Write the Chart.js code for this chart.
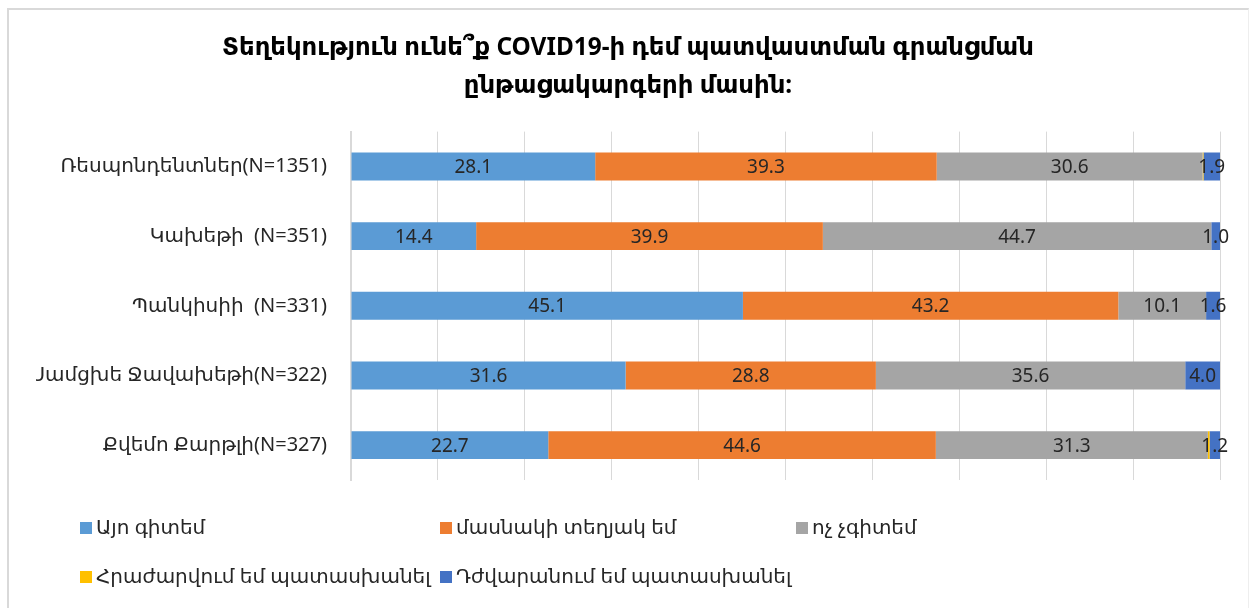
<!DOCTYPE html>
<html lang="hy">
<head>
<meta charset="utf-8">
<title>COVID19 պատվաստման գրանցում</title>
<script src="https://cdn.jsdelivr.net/npm/chart.js@4.4.1/dist/chart.umd.min.js"></script>
<style>
    html, body { margin: 0; padding: 0; background: #fff; overflow: hidden; }
    #wrap { position: relative; width: 1249px; height: 608px; }
    #frame {
        position: absolute; left: 7px; top: 8px; right: 0; bottom: -10px;
        border-left: 2px solid #d9d9d9; border-top: 2px solid #d9d9d9; border-right: 1px solid #eeeeee;
        pointer-events: none;
    }
    canvas { position: absolute; left: 0; top: 0; }
</style>
</head>
<body>
<div id="wrap">
    <canvas id="grafico" width="1249" height="608"></canvas>
    <div id="frame"></div>
</div>
<script>
// Շրջաններ
const regiones = ["Ռեսպոնդենտներ(N=1351)", "Կախեթի  (N=351)", "Պանկիսիի  (N=331)", "Սամցխե Ջավախեթի(N=322)", "Քվեմո Քարթլի(N=327)"];

// Պատասխաններ (%)
const siGito = [28.1, 14.4, 45.1, 31.6, 22.7];
const parcialmente = [39.3, 39.9, 43.2, 28.8, 44.6];
const noSe = [30.6, 44.7, 10.1, 35.6, 31.3];
const rechazo = [0.1, 0.0, 0.0, 0.0, 0.2];
const dificil = [1.9, 1.0, 1.6, 4.0, 1.2];

const etiquetas = ["Այո գիտեմ", "մասնակի տեղյակ եմ", "ոչ չգիտեմ", "Հրաժարվում եմ պատասխանել", "Դժվարանում եմ պատասխանել"];
const colores = ["#5B9BD5", "#ED7D31", "#A5A5A5", "#FFC000", "#4472C4"];
const ticksX = [0, 10, 20, 30, 40, 50, 60, 70, 80, 90, 100];

const FUENTE = "'Noto Sans', 'DejaVu Sans', sans-serif";
const series = [siGito, parcialmente, noSe, rechazo, dificil];

// Valores dentro de cada segmento (sin la serie amarilla)
const valoresPlugin = {
    id: "valores",
    afterDatasetsDraw(chart) {
        const ctx = chart.ctx;
        ctx.save();
        ctx.font = "19px " + FUENTE;
        ctx.fillStyle = "#262626";
        ctx.textAlign = "center";
        ctx.textBaseline = "middle";
        chart.data.datasets.forEach((ds, i) => {
            if (ds.sinEtiqueta) return;
            chart.getDatasetMeta(i).data.forEach((bar, j) => {
                const v = ds.data[j];
                if (!v) return;
                const cx = (bar.x + bar.base) / 2;
                ctx.fillText(v.toFixed(1), cx, bar.y + 1);
            });
        });
        ctx.restore();
    }
};

// Leyenda en dos filas con columnas fijas
const leyendaPlugin = {
    id: "leyenda",
    afterDraw(chart) {
        const ctx = chart.ctx;
        const cols = [80, 440, 796];
        const filas = [528, 577];
        ctx.save();
        ctx.font = "20px " + FUENTE;
        ctx.textBaseline = "middle";
        ctx.textAlign = "left";
        etiquetas.forEach((txt, i) => {
            const x = cols[i % 3];
            const y = filas[Math.floor(i / 3)];
            ctx.fillStyle = colores[i];
            ctx.fillRect(x, y - 6, 12, 12);
            ctx.fillStyle = "#262626";
            ctx.fillText(txt, x + 16, y);
        });
        ctx.restore();
    }
};

const ctx1 = document.getElementById("grafico").getContext("2d");
new Chart(ctx1, {
    type: "bar",
    data: {
        labels: regiones,
        datasets: series.map((d, i) => ({
            label: etiquetas[i],
            data: d,
            backgroundColor: colores[i],
            borderWidth: 0,
            barPercentage: 0.8,
            categoryPercentage: 0.5,
            sinEtiqueta: i === 3
        }))
    },
    options: {
        indexAxis: "y",
        responsive: false,
        animation: false,
        layout: { padding: { top: 29, bottom: 128, left: 36, right: 29 } },
        plugins: {
            legend: { display: false },
            tooltip: { enabled: false },
            title: {
                display: true,
                text: ["Տեղեկություն ունե՞ք COVID19-ի դեմ պատվաստման գրանցման", "ընթացակարգերի մասին:"],
                color: "#000",
                font: { family: FUENTE, size: 24.4, weight: "bold", lineHeight: 1.57 },
                padding: { top: 0, bottom: 26 }
            }
        },
        scales: {
            x: {
                stacked: true,
                min: 0,
                max: 100,
                afterBuildTicks(scale) { scale.ticks = ticksX.map(v => ({ value: v })); },
                ticks: { display: false },
                grid: { color: "#d9d9d9", lineWidth: 1, drawTicks: false },
                border: { display: false }
            },
            y: {
                stacked: true,
                afterFit(scale) { scale.width = 315; },
                ticks: {
                    color: "#262626",
                    padding: 24,
                    font: { family: FUENTE, size: 20 }
                },
                grid: { display: false, drawTicks: false },
                border: { display: true, color: "#d9d9d9", width: 2 }
            }
        }
    },
    plugins: [valoresPlugin, leyendaPlugin]
});
</script>
</body>
</html>
